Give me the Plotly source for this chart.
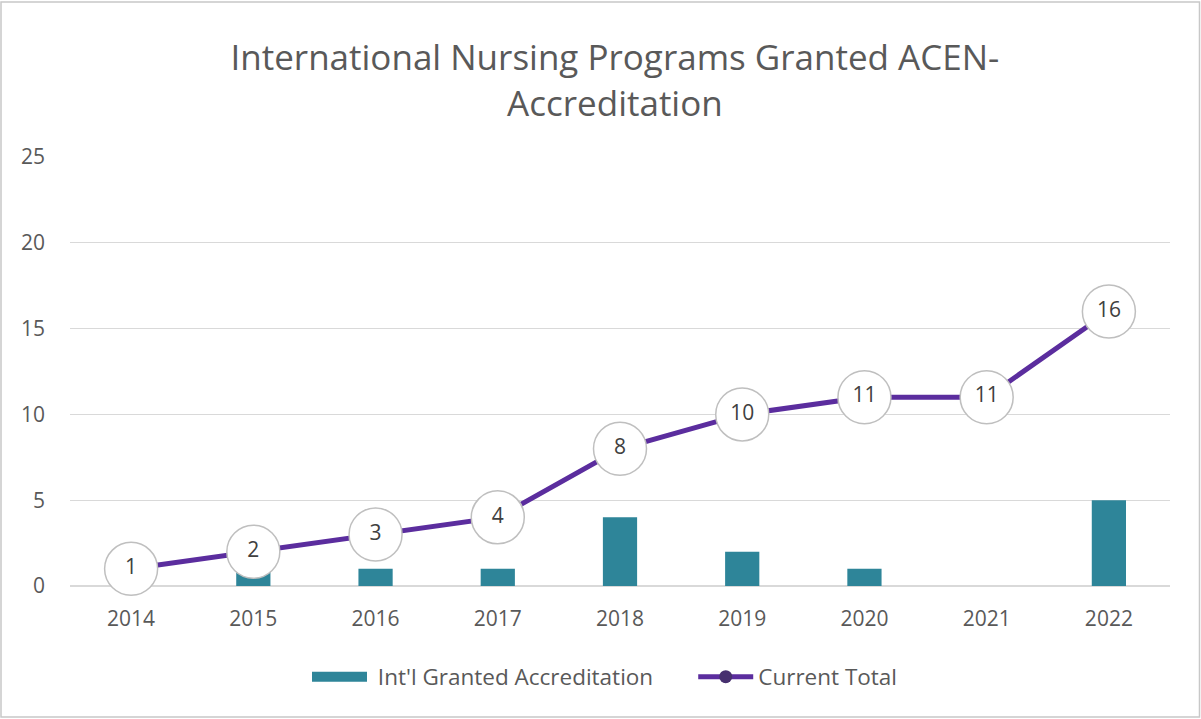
import plotly.graph_objects as go

years = ["2014", "2015", "2016", "2017", "2018", "2019", "2020", "2021", "2022"]
granted = [1, 1, 1, 1, 4, 2, 1, 0, 5]
current_total = [1, 2, 3, 4, 8, 10, 11, 11, 16]

FONT = "Open Sans, sans-serif"
TXT = "#595959"
TEAL = "#2E8599"
NB = "\u00a0"

fig = go.Figure()
fig.add_trace(go.Bar(
    x=years, y=granted, name="Int'l Granted Accreditation", showlegend=False,
    marker=dict(color=TEAL, line=dict(width=0)), width=0.28,
))
# legend-only stand-in so the bar's legend swatch is a wide rectangle
fig.add_trace(go.Scatter(
    x=[years[0]], y=[None], name=NB + "Int'l Granted Accreditation" + NB * 6, mode="lines",
    line=dict(color=TEAL, width=15), hoverinfo="skip",
))
fig.add_trace(go.Scatter(
    x=years, y=current_total, name="Current Total", mode="lines+markers",
    line=dict(color="#5B2D9E", width=5),
    marker=dict(color="#47306F", size=13),
))
fig.add_trace(go.Scatter(
    x=years, y=current_total, mode="markers+text", showlegend=False,
    text=[str(v) for v in current_total], textposition="middle center",
    textfont=dict(family=FONT, size=21, color="#404040"),
    marker=dict(color="white", size=53, line=dict(color="#BFBFBF", width=1.5)),
    cliponaxis=False, hoverinfo="skip",
))

W, H = 1201, 719
L, R, T, B = 70, 31, 157, 133
pw, ph = W - L - R, H - T - B

fig.update_layout(
    width=W, height=H,
    margin=dict(l=L, r=R, t=T, b=B, autoexpand=False),
    paper_bgcolor="white", plot_bgcolor="white",
    font=dict(family=FONT, color=TXT, size=20),
    title=dict(
        text="International Nursing Programs Granted ACEN-<br>Accreditation",
        x=0.512, xanchor="center", y=1 - 70 / H, yanchor="middle",
        font=dict(family=FONT, size=35, color=TXT),
    ),
    xaxis=dict(range=[-0.5, 8.5], showgrid=False, showline=False, ticks="", ticklabelstandoff=18,
               tickfont=dict(size=21, color=TXT)),
    yaxis=dict(range=[0, 25], dtick=5, showgrid=True, gridcolor="#D9D9D9", gridwidth=1,
               zeroline=True, zerolinecolor="#D9D9D9", zerolinewidth=1.5,
               showline=False, ticks="", ticklabelstandoff=24,
               tickfont=dict(size=21, color=TXT)),
    legend=dict(orientation="h", x=(605 - L) / pw, xanchor="center", y=(586 - 677) / ph, yanchor="middle",
                font=dict(size=22.5, color=TXT), itemwidth=55, traceorder="normal"),
    bargap=0.72,
    showlegend=True,
    shapes=[dict(type="rect", xref="paper", yref="paper",
                 x0=(1 - L) / pw, x1=(W - 1.5 - L) / pw,
                 y0=(586 - (H - 2)) / ph, y1=(586 - 2) / ph,
                 line=dict(color="#C8C8C8", width=1.5), fillcolor="rgba(0,0,0,0)", layer="below")],
)

fig.write_html("out.html", config={"displayModeBar": False},
               post_script="document.body.style.margin='0';")
